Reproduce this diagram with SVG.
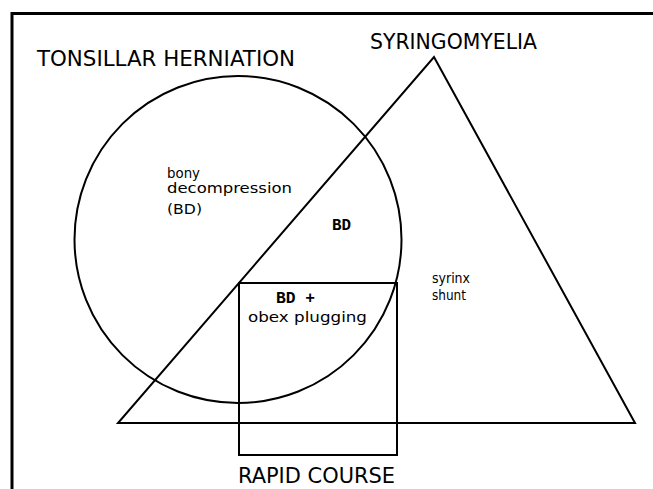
<svg xmlns="http://www.w3.org/2000/svg" width="653" height="489" viewBox="0 0 653 489">
<style>
.sh{fill:none;stroke:#000;stroke-width:2}
.t{font-family:"DejaVu Sans","Liberation Sans",sans-serif;fill:#000}
.cap{font-size:20.5px}
.sm{font-size:14px}
.bd{font-family:"Liberation Mono","DejaVu Sans Mono",monospace;font-weight:bold;font-size:16px;fill:#000}
</style>
<rect width="653" height="489" fill="#fff"/>
<path d="M12,489 V13.5 H653" fill="none" stroke="#000" stroke-width="3"/>
<g id="tonsillar-herniation">
<circle class="sh" cx="238" cy="239.5" r="163.5"/>
<text class="t cap" x="37" y="66" textLength="258" lengthAdjust="spacingAndGlyphs">TONSILLAR HERNIATION</text>
</g>
<g id="syringomyelia">
<polygon class="sh" points="434,57 635,423 118,423"/>
<text class="t cap" x="370" y="49" textLength="167" lengthAdjust="spacingAndGlyphs">SYRINGOMYELIA</text>
</g>
<g id="rapid-course">
<rect class="sh" x="239" y="283" width="158" height="172"/>
<text class="t cap" x="238" y="483" textLength="157" lengthAdjust="spacingAndGlyphs">RAPID COURSE</text>
</g>
<g id="region-bd-only">
<text class="t sm" x="167" y="178" textLength="33" lengthAdjust="spacingAndGlyphs">bony</text>
<text class="t sm" x="167" y="193" textLength="125" lengthAdjust="spacingAndGlyphs">decompression</text>
<text class="t sm" x="167" y="214" textLength="35" lengthAdjust="spacingAndGlyphs">(BD)</text>
</g>
<g id="region-bd">
<text class="bd" x="332" y="230" textLength="19" lengthAdjust="spacingAndGlyphs">BD</text>
</g>
<g id="region-bd-obex">
<text class="bd" x="276" y="303" textLength="39" lengthAdjust="spacingAndGlyphs">BD +</text>
<text class="t sm" x="248" y="322" textLength="119" lengthAdjust="spacingAndGlyphs">obex plugging</text>
</g>
<g id="region-shunt">
<text class="t sm" x="432" y="283" textLength="38" lengthAdjust="spacingAndGlyphs">syrinx</text>
<text class="t sm" x="432" y="300" textLength="34" lengthAdjust="spacingAndGlyphs">shunt</text>
</g>
<g id="connectors"/>
</svg>
